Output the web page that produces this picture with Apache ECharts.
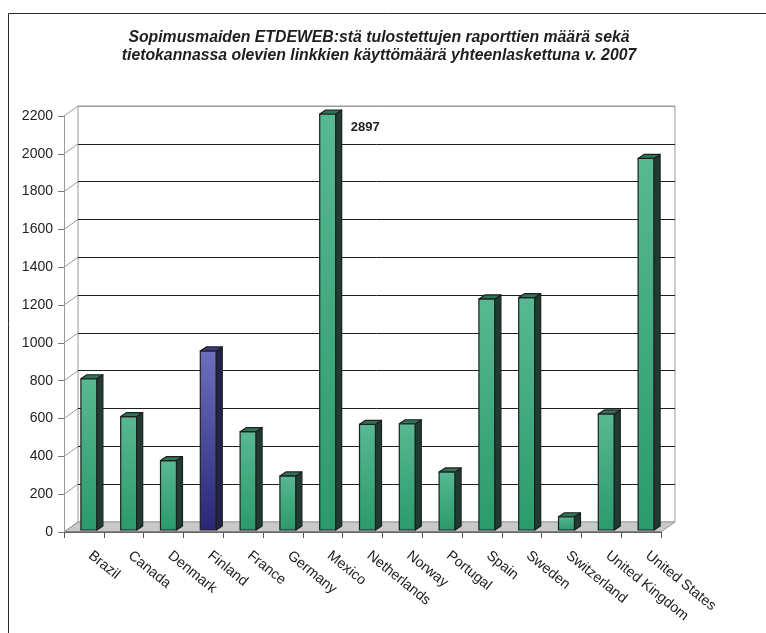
<!DOCTYPE html>
<html><head><meta charset="utf-8">
<script src="https://cdn.jsdelivr.net/npm/echarts/dist/echarts.min.js"></script>
<style>html,body{margin:0;padding:0;background:#fff}#c{width:766px;height:633px}</style>
</head><body><div id="c"></div>
<script>
const titleLines = ['Sopimusmaiden ETDEWEB:stä tulostettujen raporttien määrä sekä', 'tietokannassa olevien linkkien käyttömäärä yhteenlaskettuna v. 2007'];
const categories = ['Brazil', 'Canada', 'Denmark', 'Finland', 'France', 'Germany', 'Mexico', 'Netherlands', 'Norway', 'Portugal', 'Spain', 'Sweden', 'Switzerland', 'United Kingdom', 'United States'];
const values = [800, 600, 367, 947, 520, 286, 2897, 559, 562, 307, 1222, 1229, 70, 614, 1965];
const yTicks = [0, 200, 400, 600, 800, 1000, 1200, 1400, 1600, 1800, 2000, 2200];
const highlight = 'Finland';

const YMIN = yTicks[0], YMAX = yTicks[yTicks.length - 1], YSTEP = yTicks[1] - yTicks[0];
const FONT = 'Liberation Sans, Arial, sans-serif';
const DX = 14, DY = -10; // depth of the 3D box
const FRONT = {left: 64, right: 105, top: 116, bottom: 101};
const BACK = {left: FRONT.left + DX, right: FRONT.right - DX, top: FRONT.top + DY, bottom: FRONT.bottom - DY};

const PAL = {
  normal: {top: '#2f7455', side: '#203b30', g0: '#58b892', g1: '#2b9a6c'},
  hl: {top: '#3a3c86', side: '#22224a', g0: '#6c70ba', g1: '#2a2774'}
};

function renderFloor(params, api) {
  const cs = params.coordSys;
  const yb = cs.y + cs.height, xl = cs.x, xr = cs.x + cs.width;
  return {type: 'group', children: [
    {type: 'polygon', shape: {points: [[xl, yb], [xr, yb], [xr + DX, yb + DY], [xl + DX, yb + DY]]},
     style: {fill: '#c8c9cb', stroke: '#9a9a9a', lineWidth: 1}},
    {type: 'line', shape: {x1: xl, y1: yb, x2: xr, y2: yb}, style: {stroke: '#555', lineWidth: 1}}
  ]};
}

function renderDiag(params, api) {
  const cs = params.coordSys;
  const y = api.coord([0, api.value(1)])[1];
  return {type: 'line', shape: {x1: cs.x, y1: y, x2: cs.x + DX, y2: y + DY}, style: {stroke: '#9a9a9a', lineWidth: 1}};
}

function renderBar(params, api) {
  const i = api.value(0), v = api.value(1), raw = api.value(2);
  const base = api.coord([i, 0]), topP = api.coord([i, v]);
  const W = 16, OFF = 5, BDY = -2, SX = 6, SY = -4;
  const xl = base[0] + OFF - W / 2, xr = xl + W;
  const yb = base[1] + BDY, yt = topP[1] + BDY;
  const p = categories[i] === highlight ? PAL.hl : PAL.normal;
  const stroke = {stroke: '#1e1e1e', lineWidth: 1.2, lineJoin: 'round'};
  const children = [
    {type: 'rect', shape: {x: xl, y: yt, width: W, height: yb - yt},
     style: Object.assign({fill: new echarts.graphic.LinearGradient(0, 0, 0, 1, [{offset: 0, color: p.g0}, {offset: 1, color: p.g1}])}, stroke)},
    {type: 'polygon', shape: {points: [[xr, yt], [xr + SX, yt + SY], [xr + SX, yb + SY], [xr, yb]]},
     style: Object.assign({fill: p.side}, stroke)},
    {type: 'polygon', shape: {points: [[xl, yt], [xl + SX, yt + SY], [xr + SX, yt + SY], [xr, yt]]},
     style: Object.assign({fill: p.top}, stroke)}
  ];
  if (raw > v) {
    children.push({type: 'text', style: {text: String(raw), x: xr + SX + 9, y: yt + 13,
      font: 'bold 13px ' + FONT, fill: '#1e1e1e', verticalAlign: 'middle', align: 'left'}});
  }
  return {type: 'group', children: children};
}

const chart = echarts.init(document.getElementById('c'), null, {renderer: 'canvas'});
const splitColors = yTicks.map((t, k) => k === 0 ? '#9a9a9a' : (k === yTicks.length - 1 ? '#9a9a9a' : '#1e1e1e'));

chart.setOption({
  backgroundColor: '#fff',
  animation: false,
  graphic: [
    {type: 'rect', shape: {x: 8.5, y: 13.5, width: 900, height: 800}, style: {fill: 'none', stroke: '#2a2a2a', lineWidth: 1}, z: 100, silent: true},
    {type: 'text', x: 379, y: 29, z: 100, silent: true,
     style: {text: titleLines.join('\n'), align: 'center', verticalAlign: 'top', font: 'italic bold 15.8px ' + FONT, lineHeight: 18, fill: '#1e1e1e'}}
  ],
  grid: [
    Object.assign({show: true, borderColor: '#9a9a9a', borderWidth: 1, backgroundColor: 'transparent'}, BACK),
    Object.assign({}, FRONT)
  ],
  xAxis: [
    {type: 'category', gridIndex: 0, data: categories, axisLine: {show: false}, axisTick: {show: false}, axisLabel: {show: false}, splitLine: {show: false}},
    {type: 'category', gridIndex: 1, data: categories, boundaryGap: true,
     axisLine: {show: true, lineStyle: {color: '#555', width: 1}},
     axisTick: {show: true, length: 6, lineStyle: {color: '#555'}},
     axisLabel: {rotate: -39, margin: 17, padding: [0, 0, 0, 8], fontFamily: FONT, fontSize: 14.3, color: '#1e1e1e', interval: 0},
     splitLine: {show: false}}
  ],
  yAxis: [
    {type: 'value', gridIndex: 0, min: YMIN, max: YMAX, interval: YSTEP,
     axisLine: {show: false}, axisTick: {show: false}, axisLabel: {show: false},
     splitLine: {show: true, lineStyle: {color: splitColors, width: 1}}},
    {type: 'value', gridIndex: 1, min: YMIN, max: YMAX, interval: YSTEP,
     axisLine: {show: true, lineStyle: {color: '#9a9a9a', width: 1}},
     axisTick: {show: true, length: 6, lineStyle: {color: '#777'}},
     axisLabel: {margin: 11, fontFamily: FONT, fontSize: 14, color: '#1e1e1e', formatter: v => String(v)},
     splitLine: {show: false}}
  ],
  series: [
    {type: 'custom', xAxisIndex: 1, yAxisIndex: 1, renderItem: renderFloor, data: [[0, YMIN]], z: 1, silent: true},
    {type: 'custom', xAxisIndex: 1, yAxisIndex: 1, renderItem: renderDiag, data: yTicks.map(t => [0, t]), z: 1, silent: true},
    {type: 'custom', xAxisIndex: 1, yAxisIndex: 1, renderItem: renderBar,
     data: values.map((v, i) => [i, Math.min(v, YMAX), v]), encode: {x: 0, y: 1}, z: 3, clip: false}
  ]
});
</script></body></html>
